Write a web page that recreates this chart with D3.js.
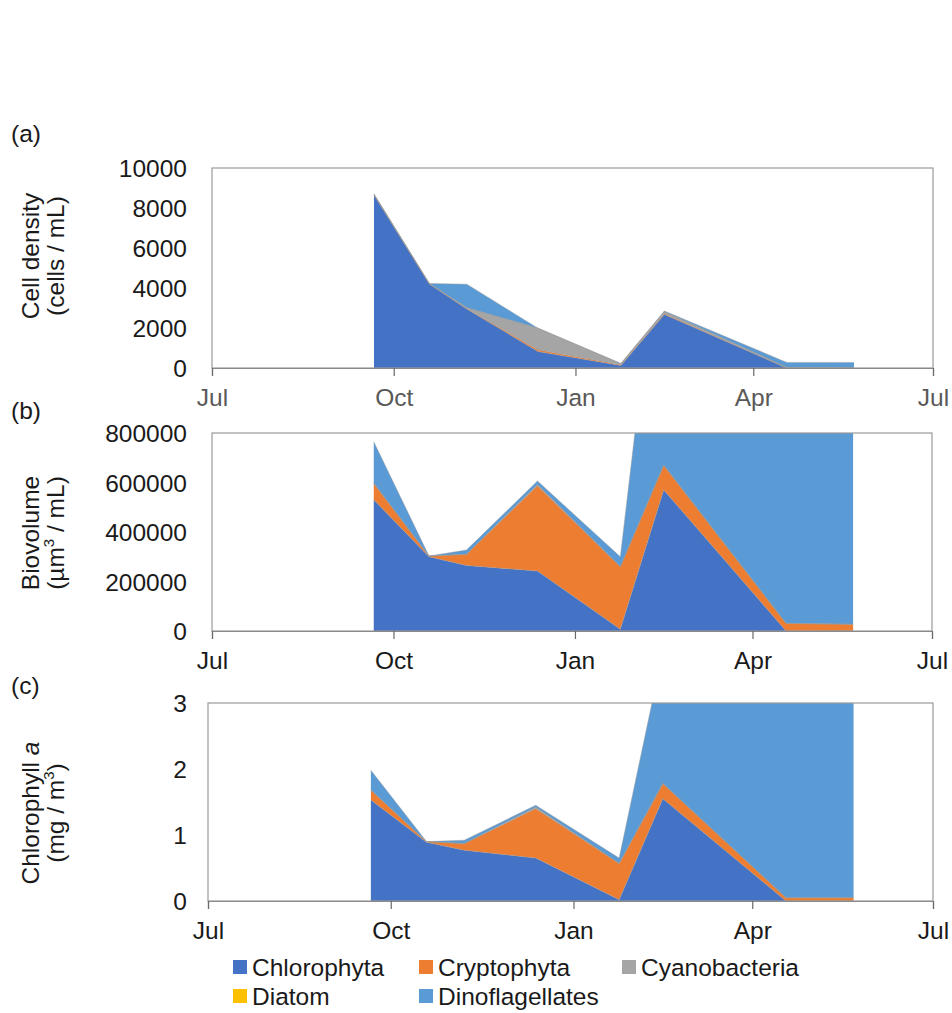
<!DOCTYPE html>
<html>
<head>
<meta charset="utf-8">
<script src="https://cdn.jsdelivr.net/npm/d3@7"></script>
<style>
  html, body { margin: 0; padding: 0; background: #fff; }
  svg { display: block; font-family: "Liberation Sans", Arial, sans-serif; }
</style>
</head>
<body>
<svg id="chart" width="952" height="1013"></svg>
<script>
// Sampling dates (one season, Sep to May)
const sampleDates = ["2016-09-21", "2016-10-19", "2016-11-07", "2016-12-13",
                     "2017-01-24", "2017-02-15", "2017-04-18", "2017-05-22"];

// Phytoplankton groups, stacked bottom to top
const groups = ["Chlorophyta", "Cryptophyta", "Cyanobacteria", "Diatom", "Dinoflagellates"];
const groupColors = ["#4472C4", "#ED7D31", "#A5A5A5", "#FFC000", "#5B9BD5"];

// (a) Cell density, cells / mL
const cellChlorophyta     = [8650, 4200, 2950, 820, 120, 2680, 0, 0];
const cellCryptophyta     = [30, 20, 20, 90, 40, 40, 0, 0];
const cellCyanobacteria   = [0, 0, 40, 1080, 50, 100, 30, 0];
const cellDiatom          = [0, 0, 0, 0, 0, 0, 0, 0];
const cellDinoflagellates = [20, 10, 1180, 0, 20, 30, 250, 280];

// (b) Biovolume, µm³ / mL
const bioChlorophyta     = [530000, 300000, 265000, 242000, 7000, 570000, 0, 0];
const bioCryptophyta     = [67000, 3000, 45000, 345000, 253000, 100000, 31000, 27000];
const bioCyanobacteria   = [0, 0, 0, 5000, 0, 0, 0, 0];
const bioDiatom          = [0, 0, 0, 0, 0, 0, 0, 0];
const bioDinoflagellates = [168000, 0, 17000, 14000, 40000, 1120000, 1500000, 1400000];

// (c) Chlorophyll a, mg / m³
const chlChlorophyta     = [1.53, 0.89, 0.77, 0.65, 0.02, 1.55, 0, 0];
const chlCryptophyta     = [0.15, 0.01, 0.10, 0.75, 0.55, 0.23, 0.05, 0.05];
const chlCyanobacteria   = [0, 0, 0, 0.02, 0, 0, 0, 0];
const chlDiatom          = [0, 0, 0, 0, 0, 0, 0, 0];
const chlDinoflagellates = [0.30, 0, 0.05, 0.03, 0.08, 2.0, 3.2, 3.0];

// Axis ticks
const monthTicks = ["2016-07-01", "2016-10-01", "2017-01-01", "2017-04-01", "2017-07-01"];
const monthLabels = ["Jul", "Oct", "Jan", "Apr", "Jul"];
const cellTicks = [0, 2000, 4000, 6000, 8000, 10000];
const bioTicks = [0, 200000, 400000, 600000, 800000];
const chlTicks = [0, 1, 2, 3];

const parseDate = d3.timeParse("%Y-%m-%d");
const dates = sampleDates.map(parseDate);
const tickDates = monthTicks.map(parseDate);

function rows(series) {
  return dates.map((d, i) => {
    const r = { date: d };
    groups.forEach((g, k) => { r[g] = series[k][i]; });
    return r;
  });
}

const panels = [
  {
    id: "a", tag: "(a)", tagY: 142,
    data: rows([cellChlorophyta, cellCryptophyta, cellCyanobacteria, cellDiatom, cellDinoflagellates]),
    ticks: cellTicks, x0: 212, x1: 933, top: 168, bottom: 368,
    titleY: 256, xLabelColor: "#595959",
    title: [[{ t: "Cell density" }], [{ t: "(cells / mL)" }]]
  },
  {
    id: "b", tag: "(b)", tagY: 419,
    data: rows([bioChlorophyta, bioCryptophyta, bioCyanobacteria, bioDiatom, bioDinoflagellates]),
    ticks: bioTicks, x0: 212, x1: 932, top: 433, bottom: 631,
    titleY: 533, xLabelColor: "#1a1a1a",
    title: [[{ t: "Biovolume" }], [{ t: "(µm" }, { t: "3", sup: true }, { t: " / mL)" }]]
  },
  {
    id: "c", tag: "(c)", tagY: 694,
    data: rows([chlChlorophyta, chlCryptophyta, chlCyanobacteria, chlDiatom, chlDinoflagellates]),
    ticks: chlTicks, x0: 208, x1: 933, top: 703, bottom: 901,
    titleY: 813, xLabelColor: "#1a1a1a",
    title: [[{ t: "Chlorophyll " }, { t: "a", it: true }], [{ t: "(mg / m" }, { t: "3", sup: true }, { t: ")" }]]
  }
];

const svg = d3.select("#chart");
const stack = d3.stack().keys(groups);
const FONT = 24.5;

panels.forEach(p => {
  const x = d3.scaleTime().domain([tickDates[0], tickDates[tickDates.length - 1]]).range([p.x0, p.x1]);
  const y = d3.scaleLinear().domain([0, d3.max(p.ticks)]).range([p.bottom, p.top]);
  const g = svg.append("g").attr("class", "panel-" + p.id);

  // clip so layers stop at the axis maximum
  const clipId = "clip-" + p.id;
  svg.append("defs").append("clipPath").attr("id", clipId)
    .append("rect").attr("x", p.x0).attr("y", p.top)
    .attr("width", p.x1 - p.x0).attr("height", p.bottom - p.top);

  const layers = stack(p.data);
  const area = d3.area()
    .x(d => x(d.data.date))
    .y0(d => y(d[0]))
    .y1(d => y(d[1]));
  const topLine = d3.line()
    .x(d => x(d.data.date))
    .y(d => y(d[1]));

  const plot = g.append("g").attr("clip-path", `url(#${clipId})`);
  plot.selectAll("path.layer").data(layers).join("path")
    .attr("class", "layer")
    .attr("d", area)
    .attr("fill", (d, i) => groupColors[i]);
  plot.selectAll("path.edge").data(layers).join("path")
    .attr("class", "edge")
    .attr("d", topLine)
    .attr("fill", "none")
    .attr("stroke", "#9a9a9a")
    .attr("stroke-opacity", 0.45)
    .attr("stroke-width", 1);

  // plot frame
  g.append("rect")
    .attr("x", p.x0).attr("y", p.top)
    .attr("width", p.x1 - p.x0).attr("height", p.bottom - p.top)
    .attr("fill", "none").attr("stroke", "#9a9a9a").attr("stroke-width", 1.2);

  // x axis with month ticks below
  const xAxis = d3.axisBottom(x)
    .tickValues(tickDates)
    .tickSize(8)
    .tickFormat((d, i) => monthLabels[i]);
  const xg = g.append("g").attr("transform", `translate(0,${p.bottom})`).call(xAxis);
  xg.select(".domain").attr("stroke", "#8a8a8a").attr("stroke-width", 1.2);
  xg.selectAll(".tick line").attr("stroke", "#6a6a6a").attr("stroke-width", 1.2);
  xg.selectAll(".tick text")
    .attr("y", 36).attr("dy", "0.1em")
    .attr("font-size", FONT).attr("font-family", "Liberation Sans, Arial, sans-serif")
    .attr("fill", p.xLabelColor);

  // y axis: labels only
  const yAxis = d3.axisLeft(y).tickValues(p.ticks).tickSize(0).tickPadding(0)
    .tickFormat(d3.format("d"));
  const yg = g.append("g").attr("transform", `translate(${187},0)`).call(yAxis);
  yg.select(".domain").remove();
  yg.selectAll(".tick text")
    .attr("font-size", FONT).attr("font-family", "Liberation Sans, Arial, sans-serif")
    .attr("fill", "#1a1a1a").attr("dy", "0.35em");

  // y axis title (two rotated lines)
  const baselines = [39, 64];
  p.title.forEach((parts, li) => {
    const t = g.append("text")
      .attr("transform", `translate(${baselines[li]},${p.titleY}) rotate(-90)`)
      .attr("text-anchor", "middle")
      .attr("font-size", FONT)
      .attr("fill", "#1a1a1a");
    parts.forEach((part, k) => {
      const s = t.append("tspan").text(part.t);
      if (part.it) s.attr("font-style", "italic");
      if (part.sup) {
        s.attr("font-size", 15).attr("dy", -10);
      } else if (k > 0 && parts[k - 1].sup) {
        s.attr("dy", 10);
      }
    });
  });

  // panel tag
  g.append("text").attr("x", 11).attr("y", p.tagY)
    .attr("font-size", FONT).attr("fill", "#1a1a1a").text(p.tag);
});

// legend
const legendCols = [233, 419, 622];
const legendRows = [967, 996];
const legend = svg.append("g").attr("class", "legend");
groups.forEach((name, i) => {
  const col = i % 3, row = Math.floor(i / 3);
  const lx = legendCols[col], ly = legendRows[row];
  legend.append("rect")
    .attr("x", lx).attr("y", ly - 7).attr("width", 14).attr("height", 14)
    .attr("fill", groupColors[i]);
  legend.append("text")
    .attr("x", lx + 19).attr("y", ly).attr("dy", "0.35em")
    .attr("font-size", FONT).attr("fill", "#1a1a1a").text(name);
});
</script>
</body>
</html>
